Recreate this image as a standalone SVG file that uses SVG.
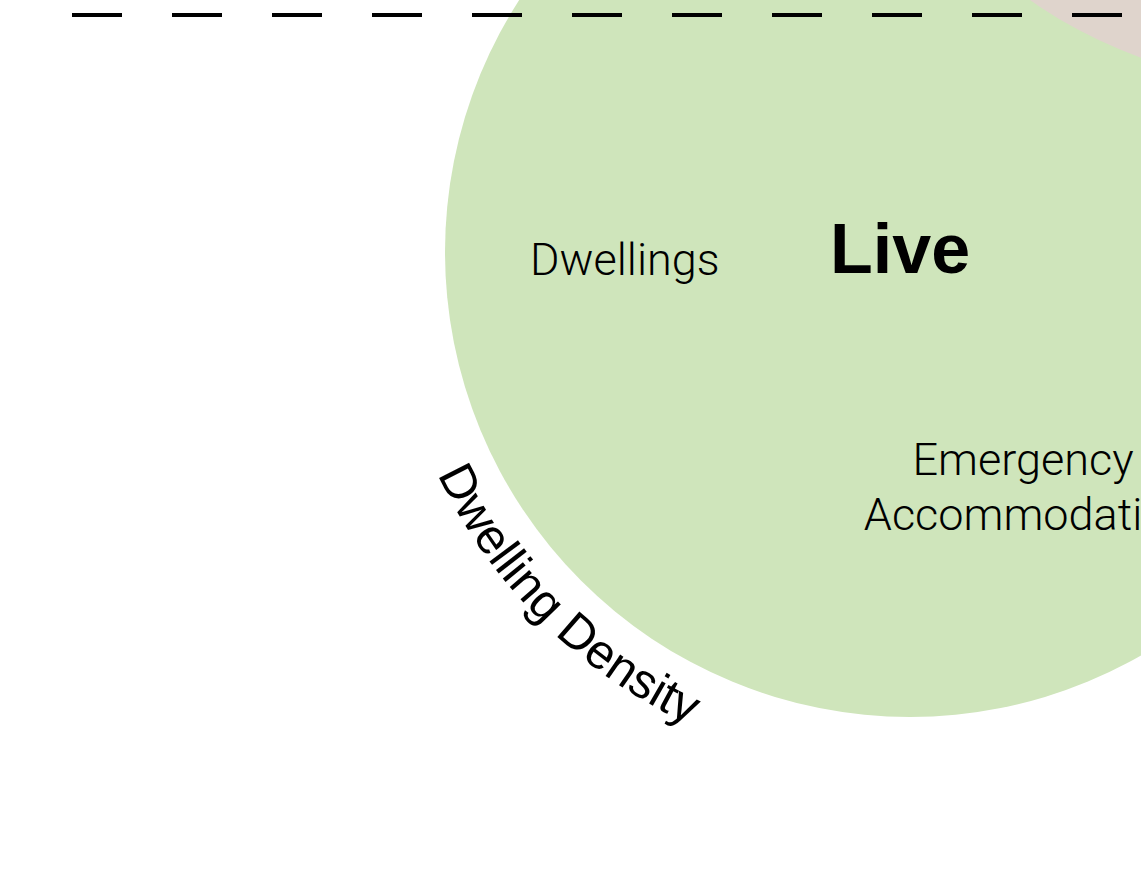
<svg xmlns="http://www.w3.org/2000/svg" width="1141" height="878" viewBox="0 0 1141 878">
<style>
.light{font-family:Roboto,"Liberation Sans",sans-serif;font-weight:300;font-size:45px;fill:#000}
.title{font-family:"Liberation Sans",Arial,sans-serif;font-weight:bold;font-size:70px;fill:#000}
.arc{font-family:"Liberation Sans",Arial,sans-serif;font-size:49px;fill:#000}
</style>
<defs>
<path id="densityArc" d="M 437.6 474.5 A 521 521 0 0 0 910 773"/>
</defs>
<rect width="1141" height="878" fill="#ffffff"/>
<g id="live">
<circle cx="910" cy="252" r="465" fill="#cfe5bb"/>
<text class="title" x="830" y="273">Live</text>
<text class="light" x="530" y="275">Dwellings</text>
<text class="light" text-anchor="middle" x="1023" y="475">Emergency</text>
<text class="light" text-anchor="middle" x="1028" y="530">Accommodation</text>
</g>
<g id="other">
<circle cx="1298" cy="-380" r="465" fill="#dfd4cc"/>
</g>
<g id="density-label">
<text class="arc"><textPath href="#densityArc">Dwelling Density</textPath></text>
</g>
<g id="connectors">
<line x1="72" y1="15" x2="1122" y2="15" stroke="#000" stroke-width="4" stroke-dasharray="50 50"/>
</g>
</svg>
